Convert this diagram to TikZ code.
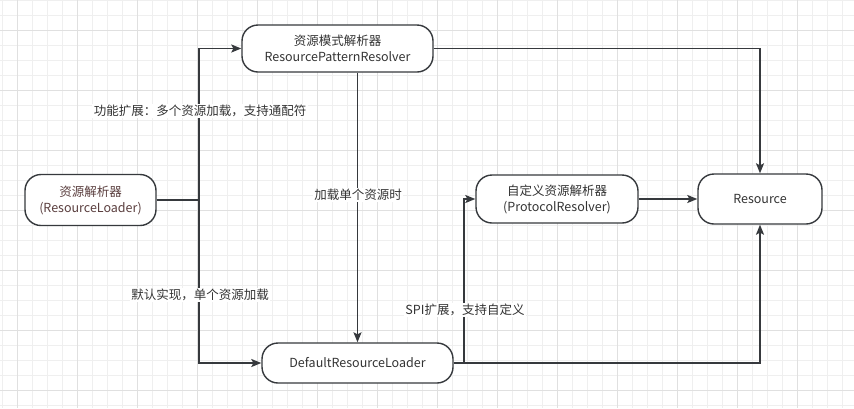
\documentclass[tikz,border=0pt]{standalone}
\usepackage{fontspec}
\setmainfont{Noto Sans CJK SC}
\usepackage{tikz}
\usetikzlibrary{arrows.meta,calc}
\definecolor{linegray}{RGB}{54,57,61}
\definecolor{textgray}{RGB}{51,51,51}
\definecolor{textbrown}{RGB}{90,62,62}
\definecolor{gridminor}{RGB}{239,239,239}
\definecolor{gridmajor}{RGB}{224,224,224}

\begin{document}
\begin{tikzpicture}[x=1pt,y=1pt]
	\tikzstyle{every node}+=[inner sep=0pt, font=\fontsize{12.5}{16}\selectfont, text=textgray]
	\tikzstyle{box}=[draw=linegray, line width=1.4pt, rounded corners=16pt, fill=white, align=center]
	\tikzstyle{lbl}=[fill=white, inner sep=1.5pt]
	\tikzstyle{link}=[draw=linegray, line width=1.3pt, -{Stealth[length=10pt,width=8pt,inset=2pt]}]
	\useasboundingbox (0,0) rectangle (854,-408);
	\fill [white] (0,0) rectangle (854,-408);
	% background grid
	\foreach \x in {2,17,...,842} \draw [gridminor, line width=0.8pt] (\x,0) -- (\x,-408);
	\foreach \y in {0,15,...,405} \draw [gridminor, line width=0.8pt] (0,-\y) -- (854,-\y);
	\foreach \x in {17,77,...,797} \draw [gridmajor, line width=0.8pt] (\x,0) -- (\x,-408);
	\foreach \y in {30,90,...,390} \draw [gridmajor, line width=0.8pt] (0,-\y) -- (854,-\y);
	% nodes
	\node [box, minimum width=131pt, minimum height=51pt, text=textbrown] (loader) at (90.5,-200) {资源解析器\\(ResourceLoader)};
	\node [box, minimum width=191pt, minimum height=47pt] (pattern) at (337.5,-48.5) {资源模式解析器\\ResourcePatternResolver};
	\node [box, minimum width=191pt, minimum height=40pt] (default) at (357.5,-363) {DefaultResourceLoader};
	\node [box, minimum width=162pt, minimum height=48pt] (protocol) at (557,-199) {自定义资源解析器\\(ProtocolResolver)};
	\node [box, minimum width=124pt, minimum height=50pt] (resource) at (760,-199) {Resource};
	\coordinate (split) at (199,-200);
	\coordinate (spi) at (464,-363);
	% connectors
	\draw [link] (loader.east) -- (split) |- (pattern.west);
	\draw [link] (loader.east) -- (split) |- (default.west);
	\draw [link] (default.north |- pattern.south) -- (default.north);
	\draw [link] (pattern.east) -| (resource.north);
	\draw [link] (protocol.east) -- (resource.west);
	\draw [link] (default.east) -- (spi) |- (protocol.west);
	\draw [link] (default.east) -| (resource.south);
	% labels
	\node [lbl] (multi) at (200,-111) {功能扩展：多个资源加载，支持通配符};
	\node [lbl] (single) at (358,-195) {加载单个资源时};
	\node [lbl] (impl) at (200,-295) {默认实现，单个资源加载};
	\node [lbl] (custom) at (465,-310) {SPI扩展，支持自定义};
\end{tikzpicture}
\end{document}
